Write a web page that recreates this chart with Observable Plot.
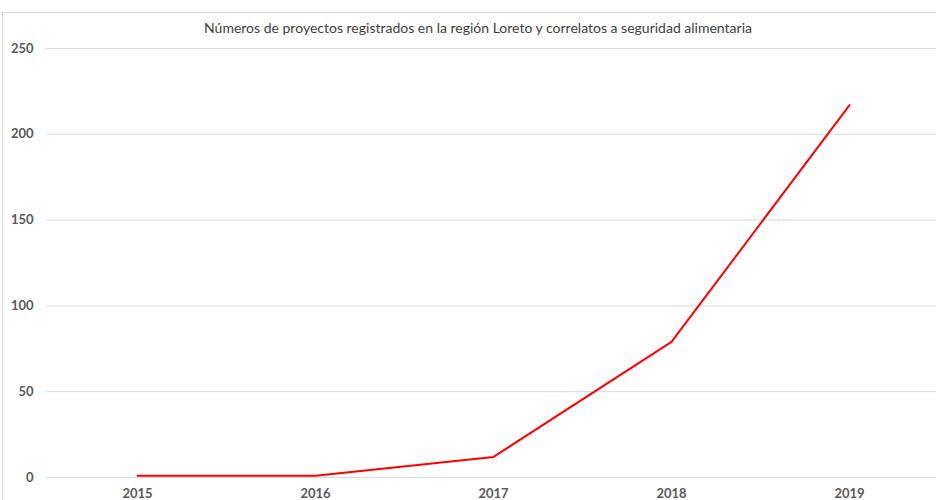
<!DOCTYPE html>
<html>
<head>
<meta charset="utf-8">
<script src="https://cdn.jsdelivr.net/npm/d3@7"></script>
<script src="https://cdn.jsdelivr.net/npm/@observablehq/plot@0.6"></script>
<style>
  body { margin: 0; background: white; }
  #wrap { position: relative; width: 936px; height: 500px; overflow: hidden; background: white; }
  #frame { position: absolute; top: 12px; left: 2px; width: 960px; height: 520px; border: 1px solid #d9d9d9; pointer-events: none; }
  #title { position: relative; height: 40px; box-sizing: border-box; padding-top: 19px; padding-left: 20px; text-align: center;
           font-family: Lato, "Open Sans", sans-serif; font-size: 14px; line-height: 18px; color: #404040; }
  #chart { position: relative; }
</style>
</head>
<body>
<div id="wrap">
  <div id="frame"></div>
  <div id="title">Números de proyectos registrados en la región Loreto y correlatos a seguridad alimentaria</div>
  <div id="chart"></div>
</div>
<script>
const years = ["2015", "2016", "2017", "2018", "2019"];
const projects = [1, 1, 12, 79, 217];
const yTicks = [0, 50, 100, 150, 200, 250];

const chart = Plot.plot({
  width: 936,
  height: 460,
  marginTop: 8,
  marginBottom: 23,
  marginLeft: 46,
  marginRight: 0,
  style: { fontFamily: "Lato, 'Open Sans', sans-serif", fontSize: "13px", fontWeight: "bold", color: "#595959", background: "transparent" },
  x: { type: "point", domain: years, range: [135, 850], padding: 0, label: null },
  y: { domain: [0, 250], label: null },
  marks: [
    Plot.gridY(yTicks, { stroke: "#d9d9d9", strokeOpacity: 1 }),
    Plot.axisY(yTicks, { tickSize: 0, tickPadding: 13, label: null }),
    Plot.axisX({ tickSize: 0, tickPadding: 11, label: null }),
    Plot.lineY(projects, { x: years, y: projects, stroke: "#ff0000", strokeWidth: 2 })
  ]
});
document.getElementById("chart").appendChild(chart);
</script>
</body>
</html>
